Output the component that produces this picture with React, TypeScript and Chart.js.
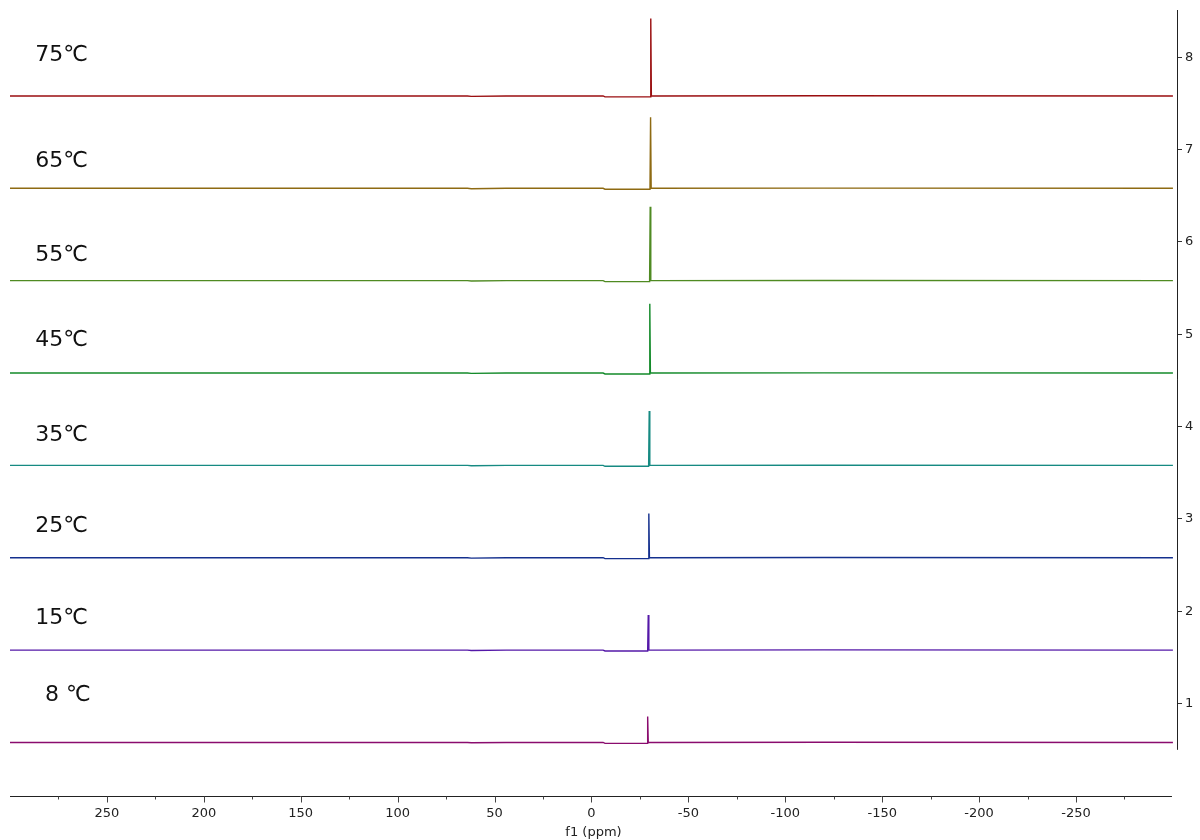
import React, { useEffect, useRef } from "react";
import { Chart, registerables } from "chart.js";

Chart.register(...registerables);

// Temperatures (top to bottom)
const temperatureLabels = ["75℃", "65℃", "55℃", "45℃", "35℃", "25℃", "15℃", "8 ℃"];
const traceColors = ["#9a0e10", "#8e6a12", "#4f8a22", "#138a2a", "#168a82", "#14308e", "#5418a8", "#8a0c6e"];
// Stack offset of each trace (right axis units)
const baselineLevels = [7.58, 6.58, 5.58, 4.58, 3.58, 2.58, 1.58, 0.58];
// Peak chemical shift (ppm) and peak height for each trace
const peakShifts = [-30.6, -30.5, -30.3, -30.1, -29.8, -29.6, -29.3, -29.0];
const peakHeights = [0.84, 0.77, 0.8, 0.75, 0.59, 0.48, 0.38, 0.28];
// Baseline shape (ppm, offset)
const baselinePpm = [300, 64, 62, 44, -6, -7];
const baselineOffsets = [0.0, 0.0, -0.004, 0.0, 0.0, -0.01];
const afterPeakPpm = [-31.5, -120, -300];
const afterPeakOffsets = [0.0, 0.002, 0.0];
// Label positions (ppm, right-axis value)
const labelPpm = [287, 287, 287, 287, 287, 287, 287, 282];
const labelLevels = [8.02, 6.87, 5.86, 4.93, 3.91, 2.92, 1.92, 1.09];
// Axis ticks
const xMajorTicks = [250, 200, 150, 100, 50, 0, -50, -100, -150, -200, -250];
const xMinorTicks = [275, 225, 175, 125, 75, 25, -25, -75, -125, -175, -225, -275];
const yTickValues = [1, 2, 3, 4, 5, 6, 7, 8];

const X_MAX = 300;
const X_MIN = -302.1;
const Y_MIN = 0;
const Y_MAX = 8.5;

function buildTrace(i: number) {
  const base = baselineLevels[i];
  const pts: { x: number; y: number }[] = [];
  baselinePpm.forEach((p, k) => pts.push({ x: p, y: base + baselineOffsets[k] }));
  pts.push({ x: peakShifts[i] + 0.3, y: base - 0.01 });
  pts.push({ x: peakShifts[i], y: base + peakHeights[i] });
  pts.push({ x: peakShifts[i] - 0.3, y: base });
  afterPeakPpm.forEach((p, k) => pts.push({ x: p, y: base + afterPeakOffsets[k] }));
  return pts;
}

const overlayPlugin = {
  id: "nmrOverlay",
  afterDraw(chart: any) {
    const { ctx } = chart;
    const xs = chart.scales.x;
    const ys = chart.scales.y;
    ctx.save();
    ctx.strokeStyle = "#222";
    ctx.lineWidth = 1;
    // x axis line
    const y0 = Math.round(ys.getPixelForValue(0)) + 0.5;
    ctx.beginPath();
    ctx.moveTo(xs.getPixelForValue(300), y0);
    ctx.lineTo(xs.getPixelForValue(-299.5), y0);
    ctx.stroke();
    // x ticks
    ctx.strokeStyle = "#444";
    xMajorTicks.forEach((v) => {
      const px = Math.round(xs.getPixelForValue(v)) + 0.5;
      ctx.beginPath();
      ctx.moveTo(px, y0);
      ctx.lineTo(px, y0 + 6);
      ctx.stroke();
    });
    xMinorTicks.forEach((v) => {
      const px = Math.round(xs.getPixelForValue(v)) + 0.5;
      ctx.beginPath();
      ctx.moveTo(px, y0);
      ctx.lineTo(px, y0 + 3);
      ctx.stroke();
    });
    // y axis line
    ctx.strokeStyle = "#222";
    const ax = Math.round(ys.left) + 0.5;
    ctx.beginPath();
    ctx.moveTo(ax, ys.getPixelForValue(0.5));
    ctx.lineTo(ax, ys.getPixelForValue(Y_MAX) - 1);
    ctx.stroke();
    // temperature labels
    ctx.fillStyle = "#111";
    ctx.font = '22px "DejaVu Sans"';
    ctx.textAlign = "left";
    ctx.textBaseline = "middle";
    temperatureLabels.forEach((t, i) => {
      ctx.fillText(t, xs.getPixelForValue(labelPpm[i]), ys.getPixelForValue(labelLevels[i]));
    });
    ctx.restore();
  },
};

export default function App() {
  const canvasRef = useRef<HTMLCanvasElement | null>(null);

  useEffect(() => {
    if (!canvasRef.current) return;
    const datasets = temperatureLabels.map((t, i) => ({
      label: t,
      data: buildTrace(i),
      borderColor: traceColors[i],
      backgroundColor: traceColors[i],
      borderWidth: 1.4,
      pointRadius: 0,
      tension: 0,
      fill: false,
    }));
    const chart = new Chart(canvasRef.current, {
      type: "line",
      data: { datasets },
      plugins: [overlayPlugin],
      options: {
        animation: false,
        responsive: false,
        devicePixelRatio: 1,
        layout: { padding: { left: 10, top: 11, right: 0, bottom: 0 } },
        plugins: { legend: { display: false }, tooltip: { enabled: false } },
        scales: {
          x: {
            type: "linear",
            reverse: true,
            min: X_MIN,
            max: X_MAX,
            afterFit: (s: any) => {
              s.height = 44;
            },
            afterBuildTicks: (s: any) => {
              s.ticks = xMajorTicks.map((v) => ({ value: v }));
            },
            grid: { display: false, drawTicks: false },
            border: { display: false },
            ticks: {
              autoSkip: false,
              maxRotation: 0,
              minRotation: 0,
              padding: 10,
              color: "#222",
              font: { family: "DejaVu Sans", size: 13 },
              callback: (v: any) => String(v),
            },
            title: {
              display: true,
              text: "f1 (ppm)",
              color: "#222",
              font: { family: "DejaVu Sans", size: 13 },
              padding: { top: 0, bottom: 0 },
            },
          },
          y: {
            type: "linear",
            position: "right",
            min: Y_MIN,
            max: Y_MAX,
            afterFit: (s: any) => {
              s.width = 23;
            },
            afterBuildTicks: (s: any) => {
              s.ticks = yTickValues.map((v) => ({ value: v }));
            },
            border: { display: false },
            grid: {
              display: true,
              drawOnChartArea: false,
              drawTicks: true,
              tickLength: 5,
              tickColor: "#333",
            },
            ticks: {
              padding: 3,
              color: "#222",
              font: { family: "DejaVu Sans", size: 13 },
              callback: (v: any) => String(v),
            },
          },
        },
      },
    });
    return () => chart.destroy();
  }, []);

  return (
    <div style={{ position: "absolute", left: 0, top: 0, width: 1200, height: 840, background: "#fff" }}>
      <canvas ref={canvasRef} width={1200} height={840} />
    </div>
  );
}
